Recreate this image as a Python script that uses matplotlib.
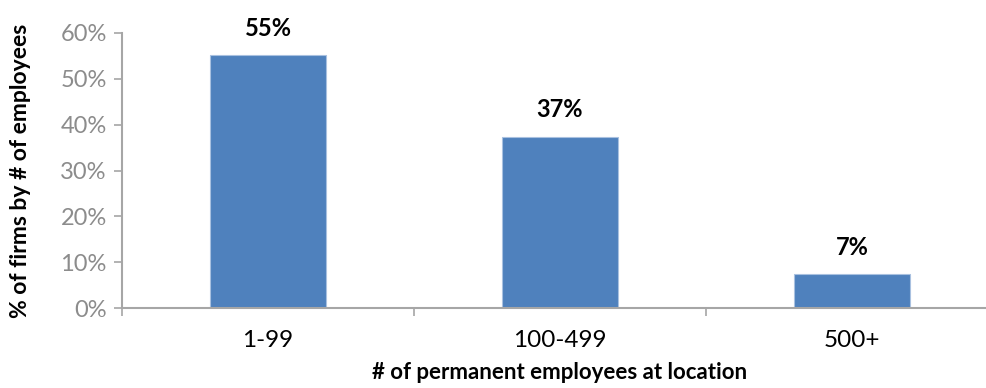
import matplotlib.pyplot as plt
from matplotlib.ticker import FuncFormatter, FixedLocator

plt.rcParams['font.family'] = ['Lato', 'DejaVu Sans']

categories = ['1-99', '100-499', '500+']
shares = [55.2, 37.4, 7.4]
y_ticks = [0, 10, 20, 30, 40, 50, 60]

bar_color = '#4f81bd'
axis_gray = '#a6a6a6'

fig = plt.figure(figsize=(9.87, 3.88), dpi=100)
ax = fig.add_axes([0.1236, 0.206, 0.8875, 0.709])

x = range(len(categories))
bars = ax.bar(x, shares, width=0.4, color=bar_color, edgecolor='#a9c1e0', linewidth=0.8, zorder=2)

for b, v in zip(bars, shares):
    ax.text(b.get_x() + b.get_width() / 2, v + 3.3, f'{v:.0f}%',
            ha='center', va='bottom', fontsize=17, fontweight='bold', color='black')

ax.set_xlim(-0.5, len(categories) - 0.5)
ax.set_ylim(0, 60)
ax.set_yticks(y_ticks)
ax.yaxis.set_major_formatter(FuncFormatter(lambda v, p: f'{v:.0f}%'))
ax.set_xticks(list(x))
ax.set_xticklabels(categories)
ax.tick_params(axis='x', length=0, labelsize=17.5, labelcolor='black', pad=16)
ax.tick_params(axis='y', length=6, direction='out', color=axis_gray, labelsize=17,
               labelcolor='#8c8c8c', pad=5, width=1.2)

# category separators on the x axis
ax.xaxis.set_minor_locator(FixedLocator([-0.5, 0.5, 1.5, 2.5]))
ax.tick_params(axis='x', which='minor', length=6, color=axis_gray, width=1.2)

for side in ['top', 'right']:
    ax.spines[side].set_visible(False)
for side in ['left', 'bottom']:
    ax.spines[side].set_color(axis_gray)
    ax.spines[side].set_linewidth(1.5)

ax.set_ylabel('% of firms by # of employees', fontsize=16.5, fontweight='bold')
ax.yaxis.set_label_coords(-0.104, 0.5)
ax.set_xlabel('# of permanent employees at location', fontsize=16, fontweight='bold', labelpad=8)

fig.savefig('out.png', dpi=100)
